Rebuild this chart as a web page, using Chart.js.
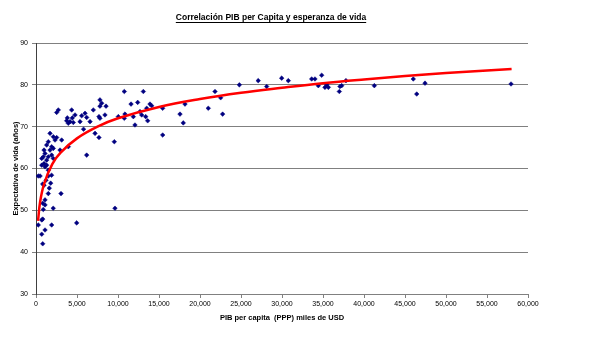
<!DOCTYPE html>
<html>
<head>
<meta charset="utf-8">
<title>Correlación PIB per Capita y esperanza de vida</title>
<script src="https://cdn.jsdelivr.net/npm/chart.js@4/dist/chart.umd.min.js"></script>
<style>
  body { margin: 0; background: #fff; }
  canvas { display: block; }
</style>
</head>
<body>
<canvas id="lifeChart" width="592" height="354"></canvas>
<script>
// Data (PIB per capita USD, esperanza de vida en años)
const gdpPerCapita = [
  280, 500, 1500, 1900, 1220, 820, 980, 1790, 1620, 1500, 3050, 1100, 820, 1100, 2100, 890,
  4960, 700, 820, 280, 1910, 1100, 700, 820, 9630, 1500, 700, 980, 1300, 1100, 700, 1300,
  2110, 1500, 890, 1910, 1100, 980, 1710, 2930, 6180, 1910, 2110, 3940, 1500, 1300, 2320, 3130,
  2110, 2520, 1710, 7200, 5800, 6590, 3740, 4150, 4550, 3940, 4350, 2720, 2520, 6990, 4760, 3820,
  4430, 5980, 5570, 5370, 6180, 7800, 7800, 8010, 7680, 7800, 8540, 7680, 9550, 10040, 10770, 10850,
  10770, 11590, 11870, 12070, 12400, 13090, 12890, 13380, 13620, 13500, 13900, 14110, 12680, 15450, 15450, 17560,
  17960, 18170, 21010, 21830, 22520, 22760, 24800, 27100, 28130, 29960, 30770, 33620, 34020, 34840, 34430, 35240,
  35650, 35450, 37070, 36990, 37280, 41260, 46010, 47440, 46430, 57930, 8410, 37800
];
const lifeExpectancy = [
  58.2, 58.2, 58.2, 58.4, 57.2, 56.3, 56.0, 56.5, 55.3, 54.0, 54.0, 52.5, 51.7, 51.3, 50.5, 50.2,
  47.0, 47.7, 47.9, 46.5, 46.5, 45.3, 44.3, 42.0, 50.5, 59.6, 60.8, 61.2, 60.8, 60.4, 62.4, 62.0,
  62.4, 62.8, 62.8, 63.2, 63.6, 64.4, 64.4, 64.4, 63.2, 65.2, 64.8, 65.2, 66.4, 65.6, 66.8, 66.8,
  67.6, 67.4, 68.4, 68.4, 69.4, 71.2, 71.4, 71.2, 71.0, 70.8, 74.0, 74.0, 73.4, 74.0, 72.8, 72.1,
  72.1, 73.2, 72.6, 71.2, 72.2, 76.4, 74.9, 75.6, 72.4, 72.0, 74.9, 67.4, 66.4, 72.4, 72.0, 73.0,
  78.4, 75.4, 72.4, 70.4, 75.8, 78.4, 72.8, 72.4, 71.4, 74.4, 75.4, 75.0, 73.6, 74.4, 68.0, 73.0,
  70.9, 75.4, 74.4, 78.4, 76.9, 73.0, 80.0, 81.0, 79.6, 81.6, 81.0, 81.4, 81.4, 82.3, 79.8, 79.4,
  79.4, 80.0, 79.6, 78.4, 79.8, 79.8, 81.4, 80.4, 77.8, 80.2, 72.8, 81.0
];

// Red trend curve
const trendX = [250, 500, 1000, 2000, 3000, 5000, 7500, 10000, 15000, 20000, 25000, 30000, 35000, 40000, 45000, 50000, 58000];
const trendY = [47.5, 52.0, 56.4, 61.1, 63.8, 67.2, 70.0, 72.0, 74.7, 76.6, 78.1, 79.3, 80.4, 81.3, 82.1, 82.8, 83.8];

// Axis ranges
const xMin = 0, xMax = 60000, xStep = 5000;
const yMin = 30, yMax = 90, yStep = 10;

const chartTitle = 'Correlación PIB per Capita y esperanza de vida';
const xTitle = 'PIB per capita  (PPP) miles de USD';
const yTitle = 'Expectativa de vida (años)';

// underlined title like the Excel original
const titlePlugin = {
  id: 'underlinedTitle',
  afterDraw(chart) {
    const ctx = chart.ctx;
    ctx.save();
    ctx.font = 'bold 8.5px "Liberation Sans", Arial, sans-serif';
    ctx.fillStyle = '#000';
    ctx.textAlign = 'center';
    ctx.textBaseline = 'alphabetic';
    const cx = 271, by = 20;
    ctx.fillText(chartTitle, cx, by);
    const w = ctx.measureText(chartTitle).width;
    ctx.strokeStyle = '#000';
    ctx.lineWidth = 1;
    ctx.beginPath();
    ctx.moveTo(cx - w / 2, by + 2.5);
    ctx.lineTo(cx + w / 2, by + 2.5);
    ctx.stroke();
    ctx.restore();
  }
};

function buildChart() {
  const points = gdpPerCapita.map((x, i) => ({ x: x, y: lifeExpectancy[i] }));
  const trend = trendX.map((x, i) => ({ x: x, y: trendY[i] }));
  const tickFont = { family: '"Liberation Sans", Arial, sans-serif', size: 7 };
  const titleFont = { family: '"Liberation Sans", Arial, sans-serif', size: 7.5, weight: 'bold' };

  new Chart(document.getElementById('lifeChart'), {
    type: 'scatter',
    data: {
      datasets: [
        {
          label: 'Tendencia',
          data: trend,
          showLine: true,
          borderColor: '#ff0000',
          borderWidth: 2.5,
          pointRadius: 0,
          tension: 0.4,
          fill: false
        },
        {
          label: 'Países',
          data: points,
          pointStyle: 'rectRot',
          pointRadius: 2.3,
          backgroundColor: '#000080',
          borderColor: '#000080',
          borderWidth: 0.5
        }
      ]
    },
    options: {
      responsive: false,
      animation: false,
      layout: { padding: { left: 0, right: 64, top: 43, bottom: 0 } },
      plugins: {
        legend: { display: false },
        tooltip: { enabled: false }
      },
      scales: {
        x: {
          type: 'linear',
          min: xMin,
          max: xMax,
          ticks: { stepSize: xStep, color: '#000', font: tickFont, padding: 2, maxRotation: 0 },
          grid: { drawOnChartArea: false, drawTicks: true, tickLength: 4, color: '#808080' },
          border: { color: '#808080', width: 1 },
          title: { display: true, text: xTitle, color: '#000', font: titleFont, padding: { top: 0, bottom: 32 } },
          afterFit(scale) { scale.height = 60; }
        },
        y: {
          min: yMin,
          max: yMax,
          ticks: { stepSize: yStep, color: '#000', font: tickFont, padding: 4 },
          grid: { color: '#808080', lineWidth: 1, tickLength: 4 },
          border: { color: '#404040', width: 1 },
          title: { display: true, text: yTitle, color: '#000', font: titleFont, padding: { top: 11, bottom: 0 } },
          afterFit(scale) { scale.width = 36; }
        }
      }
    },
    plugins: [titlePlugin]
  });
}

document.addEventListener('DOMContentLoaded', buildChart);
</script>
</body>
</html>
